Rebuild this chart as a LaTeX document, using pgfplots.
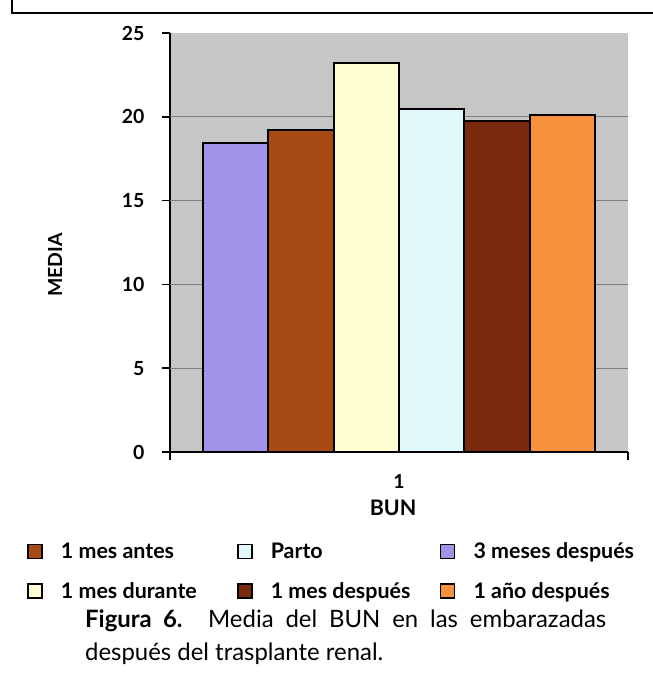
\documentclass[border=0pt]{standalone}
\usepackage{fontspec}
\setmainfont{Lato}
\usepackage{pgfplots}
\pgfplotsset{compat=1.18}

\definecolor{lavender}{HTML}{A393E6}
\definecolor{rust}{HTML}{A84A14}
\definecolor{cream}{HTML}{FFFDD2}
\definecolor{icecyan}{HTML}{E0F8FA}
\definecolor{darkrust}{HTML}{7A2A0C}
\definecolor{apricot}{HTML}{F8913E}
\definecolor{plotgray}{HTML}{C6C6C6}
\definecolor{gridgray}{HTML}{7E7E7E}

\begin{document}
\begin{tikzpicture}[x=1bp,y=1bp]
\path[use as bounding box] (0,0) rectangle (653,676);
% frame around the figure
\draw[line width=2bp] (12,676) -- (12,663) -- (653,663);

\begin{axis}[
  at={(170bp,224bp)}, anchor=south west,
  scale only axis, width=458bp, height=419bp,
  xmin=0, xmax=7, ymin=0, ymax=25,
  axis lines*=left,
  axis line style={line width=1.6bp, black},
  axis background/.style={fill=plotgray},
  tick align=outside,
  major tick length=8bp,
  tick style={line width=1.6bp, black},
  ytick={0,5,...,25},
  xtick={0,7}, xticklabels={},
  extra x ticks={3.5}, extra x tick labels={1},
  extra x tick style={major tick length=0pt, xticklabel style={yshift=-19bp}},
  extra y ticks={5,10,15,20}, extra y tick labels={},
  extra y tick style={ymajorgrids=true, major tick length=0pt},
  major grid style={gridgray, line width=1bp},
  ticklabel style={font=\fontsize{19.5}{22}\selectfont\bfseries},
  yticklabel style={xshift=-14bp},
  /pgf/number format/assume math mode=true,
  xlabel={BUN}, ylabel={MEDIA},
  label style={font=\fontsize{19.5}{22}\selectfont\bfseries},
  xlabel style={at={(axis description cs:0.487,-0.134)}, anchor=center,
    font=\fontsize{21.5}{24}\selectfont\bfseries},
  ylabel style={at={(axis description cs:-0.251,0.446)}, anchor=center},
  legend columns=3,
  legend cell align=left,
  legend image code/.code={%
    \draw[#1, draw=black, line width=1.6bp] (0bp,-7bp) rectangle (14bp,7bp);
    \path[draw=none, fill=none] (0bp,0bp) -- (31bp,0bp);},
  legend style={at={(axis description cs:-0.3188,-0.2065)}, anchor=north west,
    draw=none, fill=none, row sep=18bp,
    font=\fontsize{21.5}{24}\selectfont\bfseries},
]
\addplot[ybar, bar width=1, bar shift=0pt, fill=rust, draw=black, line width=2bp]
  coordinates {(2,19.2)};
\addlegendentry{\makebox[174bp][l]{1 mes antes}}
\addplot[ybar, bar width=1, bar shift=0pt, fill=icecyan, draw=black, line width=2bp]
  coordinates {(4,20.45)};
\addlegendentry{\makebox[167bp][l]{Parto}}
\addplot[ybar, bar width=1, bar shift=0pt, fill=lavender, draw=black, line width=2bp]
  coordinates {(1,18.45)};
\addlegendentry{3 meses después}
\addplot[ybar, bar width=1, bar shift=0pt, fill=cream, draw=black, line width=2bp]
  coordinates {(3,23.2)};
\addlegendentry{\makebox[174bp][l]{1 mes durante}}
\addplot[ybar, bar width=1, bar shift=0pt, fill=darkrust, draw=black, line width=2bp]
  coordinates {(5,19.75)};
\addlegendentry{\makebox[167bp][l]{1 mes después}}
\addplot[ybar, bar width=1, bar shift=0pt, fill=apricot, draw=black, line width=2bp]
  coordinates {(6,20.1)};
\addlegendentry{1 año después}
\end{axis}

% caption
\node[anchor=base west, inner sep=0pt, font=\fontsize{24}{28}\selectfont]
  at (85,48) {\makebox[521bp][s]{\textbf{Figura 6.} Media del BUN en las embarazadas}};
\node[anchor=base west, inner sep=0pt, font=\fontsize{24}{28}\selectfont]
  at (85,15) {después del trasplante renal.};
\end{tikzpicture}
\end{document}
